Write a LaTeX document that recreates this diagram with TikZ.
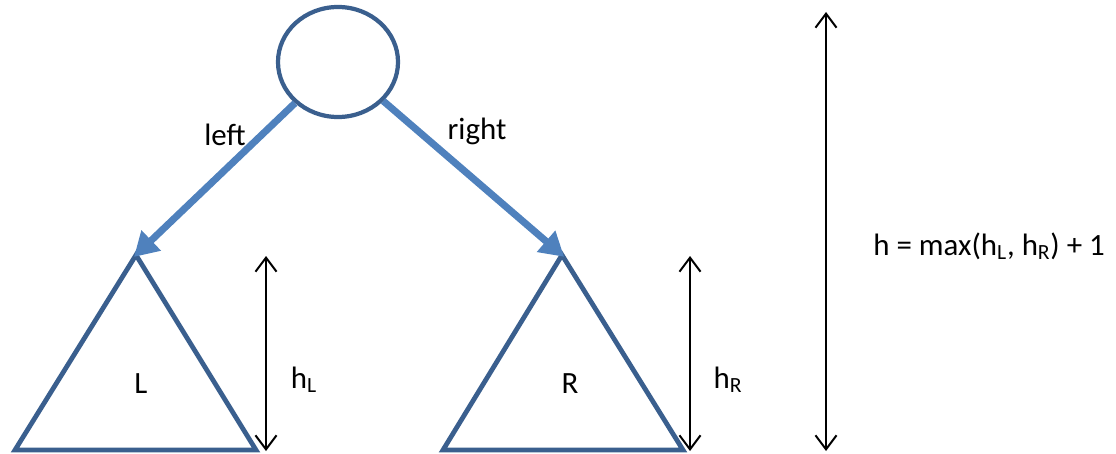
\documentclass[tikz,border=0pt]{standalone}
\usepackage{fontspec}
\setmainfont{Carlito}
\usetikzlibrary{arrows.meta,shapes.geometric}

\definecolor{treeline}{HTML}{3A5F8E}
\definecolor{edgeblue}{HTML}{4F81BD}

\begin{document}
\begin{tikzpicture}[
    x=0.025cm, y=-0.025cm,
    font=\fontsize{22}{26}\selectfont,
    root/.style={ellipse, draw=treeline, line width=3pt, minimum width=3cm, minimum height=2.75cm, inner sep=0pt},
    subtree/.style={draw=treeline, line width=3.4pt, line join=miter},
    child/.style={-{Triangle[length=17pt, width=19pt]}, draw=edgeblue, line width=5pt, shorten >=-2pt},
    height/.style={{Straight Barb[length=10pt, width=15pt]}-{Straight Barb[length=10pt, width=15pt]}, line width=1.4pt},
    lbl/.style={inner sep=0pt}
  ]

    % Frame
    \useasboundingbox (0,0) rectangle (1116,453);

    % Root node
    \node[root] (root) at (338,62) {};

    % Subtree corners
    \coordinate (Ltop) at (136,255);
    \coordinate (Lleft) at (15,450);
    \coordinate (Lright) at (256,450);
    \coordinate (Rtop) at (562,255);
    \coordinate (Rleft) at (443,450);
    \coordinate (Rright) at (683,450);

    % Subtrees
    \draw[subtree] (Ltop) -- (Lleft) -- (Lright) -- cycle;
    \draw[subtree] (Rtop) -- (Rleft) -- (Rright) -- cycle;
    \node[lbl] (Lname) at (141,384) {L};
    \node[lbl] (Rname) at (570,384) {R};

    % Child pointers
    \draw[child] (root) -- (Ltop);
    \draw[child] (root) -- (Rtop);
    \node[lbl] (leftlbl) at (225,135) {left};
    \node[lbl] (rightlbl) at (477,131) {right};

    % Heights
    \coordinate (hLtop) at (266,256);
    \coordinate (hLbot) at (266,451);
    \coordinate (hRtop) at (690,256);
    \coordinate (hRbot) at (690,451);
    \coordinate (htop) at (826,12);
    \coordinate (hbot) at (826,451);
    \draw[height] (hLtop) -- (hLbot);
    \draw[height] (hRtop) -- (hRbot);
    \draw[height] (htop) -- (hbot);
    \node[lbl] (hLlbl) at (304,380) {h\textsubscript{L}};
    \node[lbl] (hRlbl) at (728,380) {h\textsubscript{R}};
    \node[lbl, anchor=west] (hlbl) at (873,246) {h = max(h\textsubscript{L}, h\textsubscript{R}) + 1};

  \end{tikzpicture}
\end{document}
